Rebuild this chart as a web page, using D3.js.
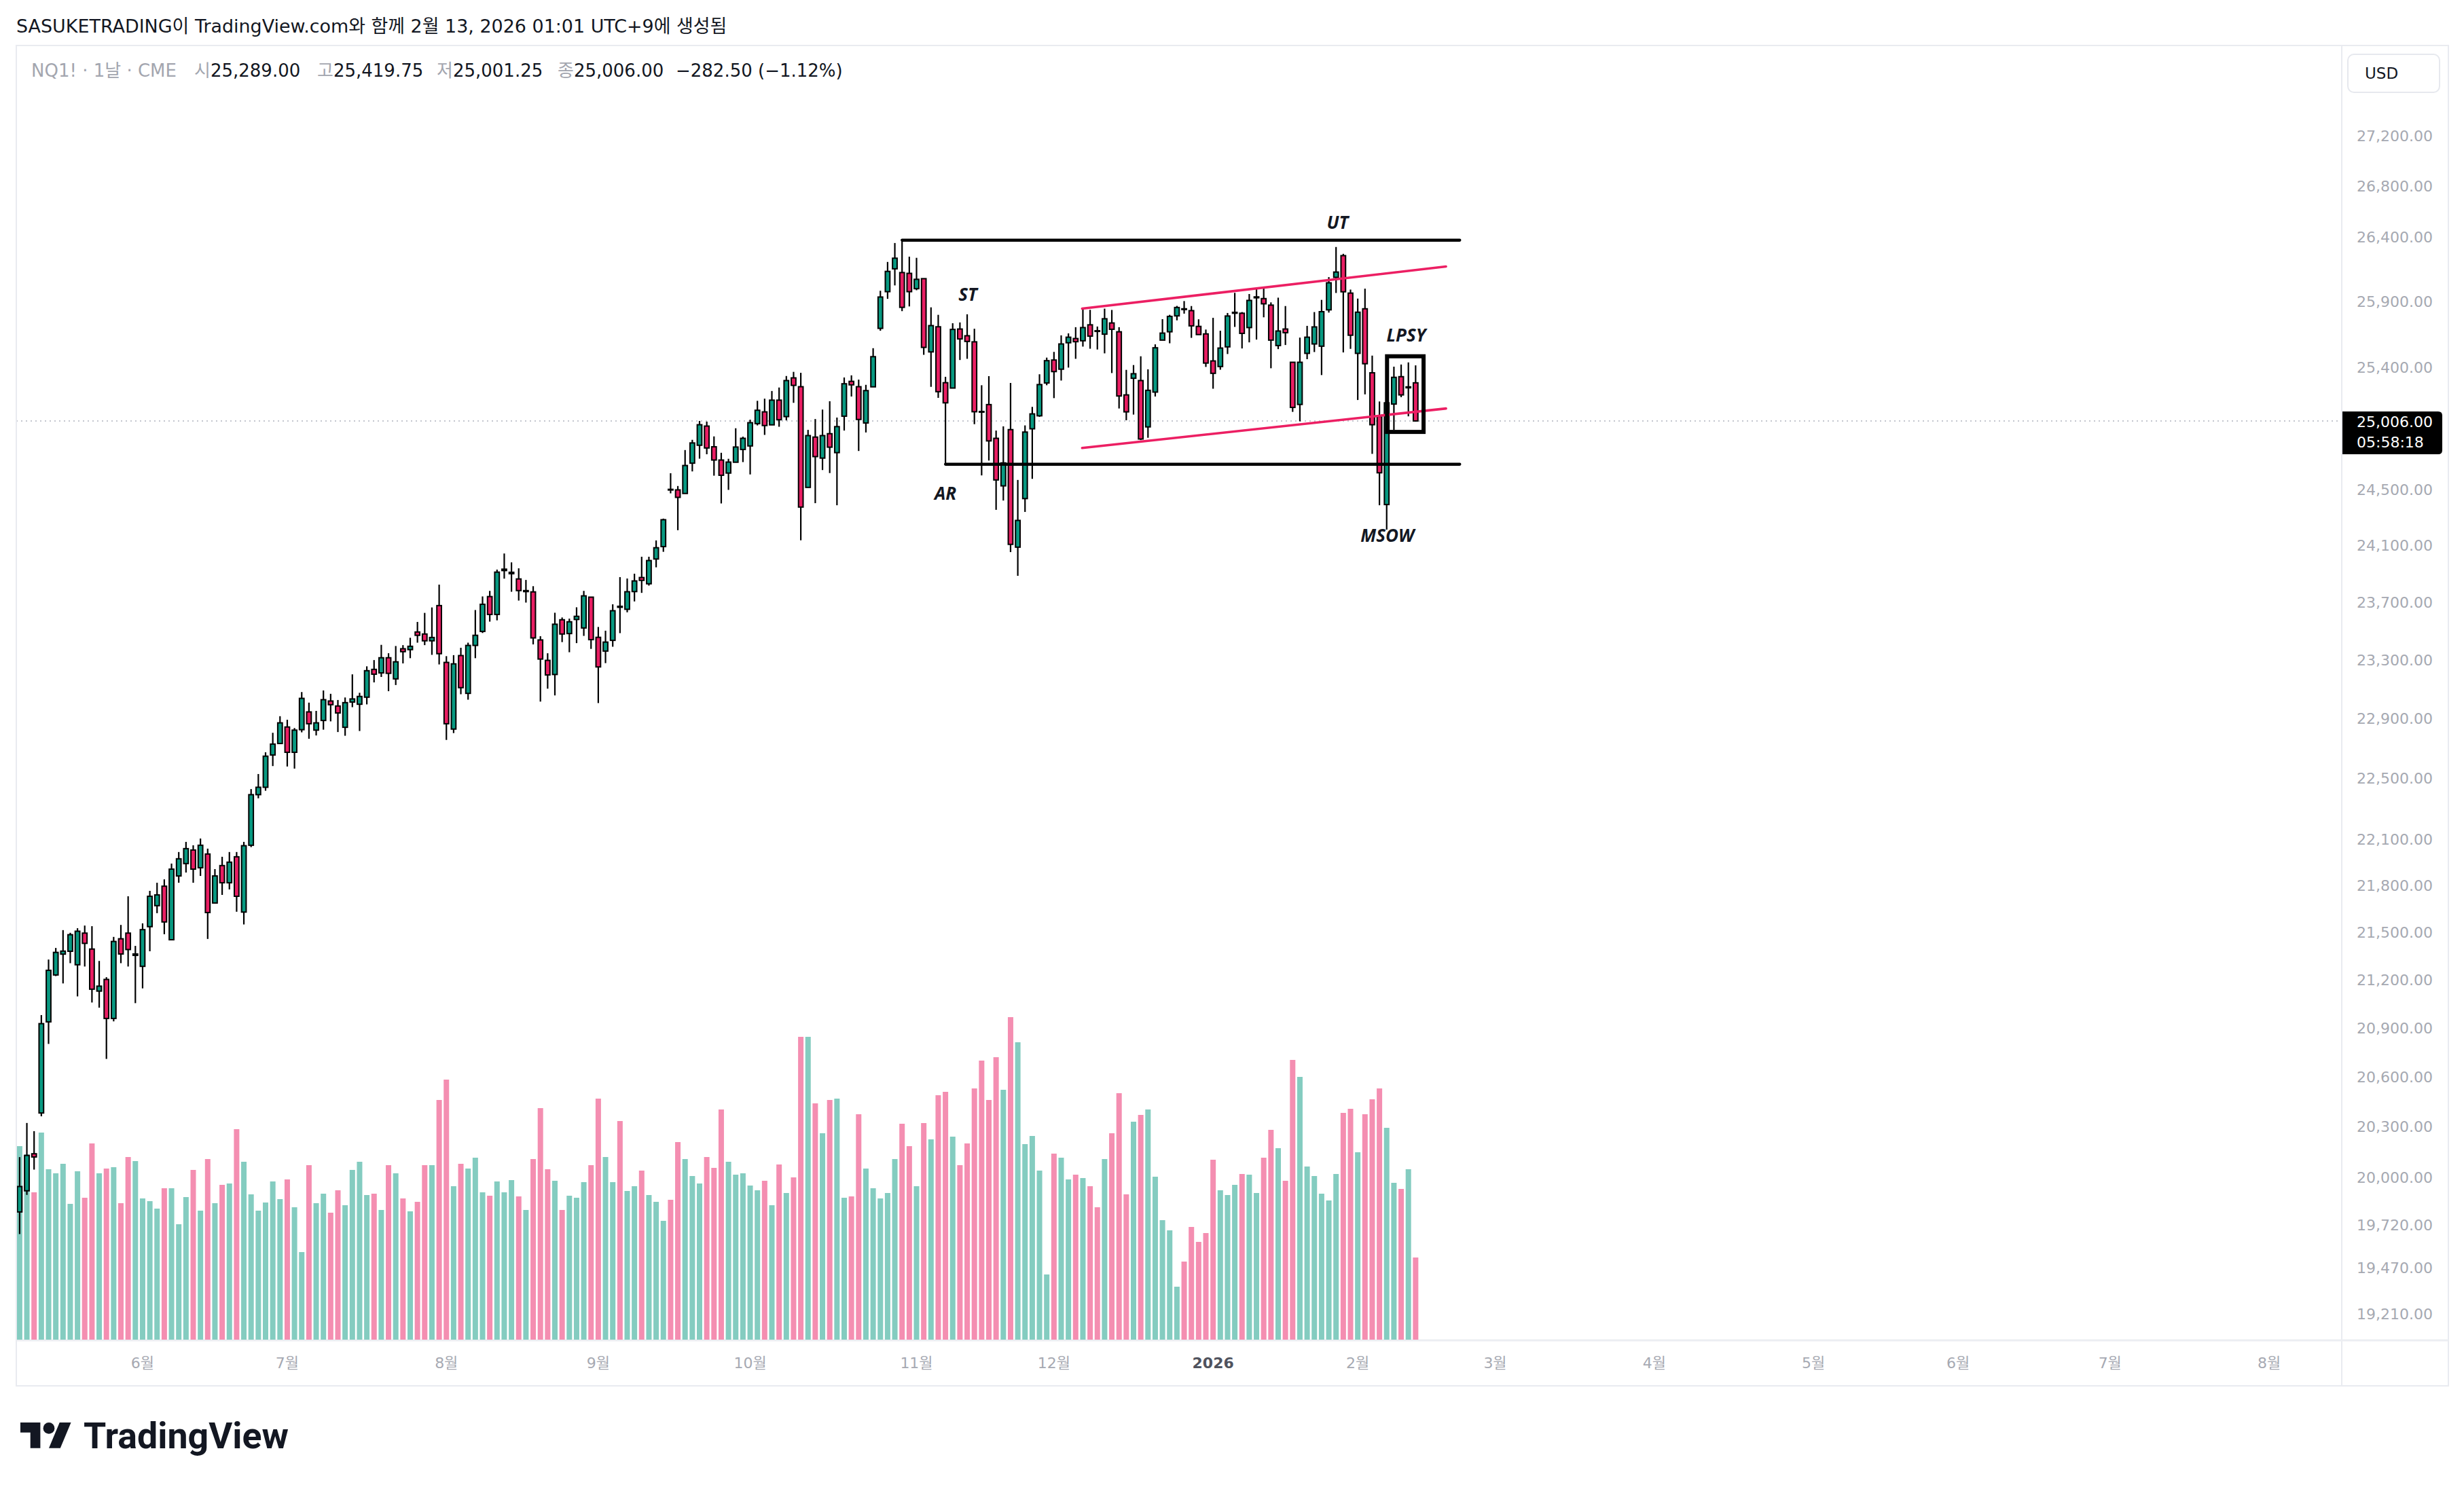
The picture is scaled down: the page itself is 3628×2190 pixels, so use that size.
<!DOCTYPE html>
<html><head><meta charset="utf-8">
<script src="https://cdn.jsdelivr.net/npm/d3@7"></script>
<style>html,body{margin:0;padding:0;background:#fff;}svg{display:block}</style>
</head><body>
<svg id="chart" width="3628" height="2190"></svg>
<script>
// ---------- DATA (NQ1! daily, bar index 0 = 2025-05-07) ----------
const opens = [19797,19921,20140,20384,20940,21232,21363,21381,21296,21496,21395,21131,21204,20961,21460,21496,21355,21286,21537,21671,
21796,21454,21862,21942,22030,21915,22004,21688,21929,21818,21986,21630,22061,22393,22442,22657,22734,22845,22675,22827,
22947,22824,22889,23021,22987,22843,23014,22999,23047,23237,23213,23317,23172,23379,23373,23495,23481,23434,23679,23285,
22831,23332,23073,23402,23499,23742,23617,23925,23903,23866,23777,23775,23440,23299,23202,23580,23484,23582,23523,23738,
23458,23363,23437,23674,23653,23777,23876,23832,24007,24095,24506,24502,24476,24696,24827,24968,24816,24719,24624,24703,
24796,24822,24986,25073,24977,25160,25038,25326,25260,24520,24887,24733,24912,24773,25041,25300,25260,24991,25259,25699,
25979,26155,26126,26120,26002,26079,25521,25711,25290,25250,25694,25643,25597,25076,25127,24878,24531,24942,24091,24439,
24948,25044,25288,25460,25391,25590,25622,25605,25726,25681,25655,25740,25673,25199,25323,25306,24962,25220,25610,25673,
25794,25848,25834,25714,25657,25453,25411,25559,25814,25814,25705,25932,25926,25876,25569,25694,25443,25128,25510,25581,
25564,25840,26089,26257,25968,25510,25848,25364,25040,24396,25131,25335,25252,25289];
const highs = [20120,20324,20275,20982,21329,21402,21515,21498,21527,21544,21540,21320,21218,21472,21548,21731,21415,21558,21766,21818,
21840,21942,22017,22083,22061,22105,22039,21906,21986,22017,22017,22083,22430,22530,22675,22806,22918,22894,22838,23082,
23010,22954,23093,23070,23028,23045,23203,23077,23258,23301,23406,23348,23398,23404,23455,23565,23628,23666,23826,23328,
23335,23386,23421,23648,23743,23782,23932,24046,23983,23941,23859,23815,23466,23348,23629,23596,23588,23667,23782,23738,
23530,23504,23688,23879,23869,23903,24023,24023,24139,24295,24623,24530,24792,24867,25006,25001,24892,24772,24728,24952,
24890,25015,25155,25171,25228,25254,25340,25371,25364,24940,25020,25090,25152,25031,25329,25345,25313,25274,25549,25986,
26208,26355,26377,26249,26240,26079,25859,25802,25334,25738,25744,25806,25696,25271,25339,24935,24966,25288,24574,24973,
25110,25353,25478,25521,25646,25661,25708,25847,25840,25713,25849,25839,25708,25386,25422,25488,25390,25578,25769,25802,
25870,25907,25869,25768,25690,25779,25681,25816,25970,25823,25961,26000,26016,25897,25933,25869,25443,25629,25718,25823,
25916,26091,26324,26271,25995,25926,26002,25493,25150,25166,25410,25426,25442,25419.75];
const lows = [19668,19897,20046,20364,20804,21225,21179,21306,21098,21285,21060,21028,20712,20943,21306,21285,21056,21148,21381,21623,
21489,21454,21818,21884,21818,21862,21459,21688,21740,21775,21632,21551,22049,22369,22419,22583,22734,22580,22566,22809,
22766,22788,22827,22883,22811,22786,22979,22818,22998,23148,23185,23088,23130,23278,23314,23421,23404,23337,23271,22758,
22804,23067,23030,23314,23488,23567,23576,23868,23776,23714,23700,23409,23017,23105,23059,23425,23355,23418,23468,23378,
23007,23280,23393,23487,23632,23708,23768,23819,23948,24058,24477,24212,24476,24636,24729,24761,24605,24404,24502,24703,
24704,24614,24973,24903,24977,24963,25010,25140,24140,24520,24406,24646,24624,24391,24935,25187,24785,24921,25259,25681,
25924,26027,25830,25866,25990,25499,25259,25177,24688,25250,25460,25469,24982,24607,24715,24358,24425,24056,23888,24343,
24582,25036,25271,25175,25306,25403,25469,25561,25545,25539,25510,25362,25098,25011,25053,24865,24882,25187,25610,25586,
25760,25811,25627,25652,25408,25245,25387,25505,25710,25547,25593,25614,25783,25398,25542,25573,25073,25003,25466,25520,
25347,25819,25969,25517,25544,25161,25203,24764,24391,24216,24940,25182,25040,25001.25];
const closes = [19946,20130,20121,20929,21261,21374,21382,21486,21508,21431,21143,21162,20961,21443,21364,21392,21364,21518,21731,21740,
21567,21906,21973,22039,21906,22061,21627,21862,21818,21951,21731,22058,22393,22442,22649,22730,22873,22675,22824,23039,
22867,22873,23030,22996,22940,23010,23035,23052,23228,23204,23317,23210,23289,23359,23396,23472,23434,23457,23345,22867,
23275,23112,23402,23472,23688,23617,23914,23935,23913,23784,23784,23454,23308,23199,23549,23481,23566,23604,23747,23442,
23254,23425,23643,23667,23776,23852,23856,23996,24087,24287,24501,24448,24679,24844,24978,24807,24719,24608,24704,24814,
24878,24993,25085,24972,25160,25015,25306,25270,24378,24898,24744,24898,24813,24964,25282,25274,25017,25231,25485,25938,
26135,26237,25859,25979,26074,25555,25720,25223,25140,25691,25619,25600,25074,25071,24859,24574,24698,24111,24282,24924,
25058,25276,25455,25373,25581,25632,25598,25705,25640,25676,25772,25692,25191,25073,25357,24873,25233,25552,25663,25790,
25858,25842,25718,25652,25437,25360,25550,25793,25821,25661,25912,25939,25886,25610,25679,25666,25106,25443,25632,25710,
25826,26047,26130,25978,25647,25822,25432,24978,24626,25140,25330,25199,25259,25006];
// volume, thousands of contracts
const volumes = [570,546,434,610,502,490,518,400,496,418,578,490,504,508,402,538,526,416,408,386,
446,446,340,420,500,380,532,402,456,460,620,524,428,380,404,466,414,472,390,258,
514,402,430,374,440,396,500,524,426,430,382,514,490,416,378,406,514,514,706,766,
452,518,504,536,434,424,466,434,470,422,382,532,682,502,468,382,424,418,464,514,
710,538,464,644,438,452,498,426,406,350,412,582,532,482,460,538,506,678,524,486,
490,454,440,468,396,516,432,478,892,892,696,608,706,710,418,422,664,504,446,416,
432,532,636,570,452,638,590,720,730,598,514,578,740,822,706,832,736,950,876,576,
600,498,192,548,536,472,486,476,452,390,532,608,726,428,642,662,678,480,352,322,
156,230,332,288,314,530,440,426,456,488,486,432,536,618,564,468,824,774,510,482,
430,410,488,668,680,552,664,708,740,624,462,444,502,242];

const priceTicks = [27200,26800,26400,25900,25400,24500,24100,23700,23300,22900,22500,22100,21800,21500,21200,20900,20600,20300,20000,19720,19470,19210];
const monthLabels = ['6월','7월','8월','9월','10월','11월','12월','2026','2월','3월','4월','5월','6월','7월','8월'];
const monthStartBar = [17,37,59,80,101,124,143,165,185,204,226,248,268,289,311];

const levelLines = [
  {name:'UT', from:122, to:199.1, price:26377},
  {name:'AR', from:128, to:199.1, price:24688}
];
const channelLines = [
  {b1:146.9, p1:25849, b2:197.2, p2:26173},
  {b1:146.9, p1:24807, b2:197.2, p2:25098}
];
const lpsyBox = {b1:189.05, b2:194.1, pTop:25488, pBot:24925};
const labels = [
  {t:'UT', bar:182.2, price:26520},
  {t:'ST', bar:131.1, price:25961},
  {t:'AR', bar:128.0, price:24479},
  {t:'LPSY', bar:191.7, price:25650},
  {t:'MSOW', bar:189.1, price:24179}
];
const titleText = 'SASUKETRADING이 TradingView.com와 함께 2월 13, 2026 01:01 UTC+9에 생성됨';
const symbolText = 'NQ1! · 1날 · CME';
const ohlcLabels = ['시','고','저','종'];
const ohlcValues = ['25,289.00','25,419.75','25,001.25','25,006.00'];
const changeText = '−282.50 (−1.12%)';
const lastPrice = 25006, countdown = '05:58:18';

// ---------- LAYOUT ----------
const W = 3628, H = 2190;
const pane = {left:24, top:67, right:3448, bottom:1974};
const frame = {right:3605, bottom:2041};
const FONT = "'DejaVu Sans','Noto Sans CJK KR',sans-serif";
const UP = '#089981', DOWN = '#e91e63';
const UPV = '#84ccc0', DOWNV = '#f48eb1';

const svg = d3.select('#chart');
svg.append('rect').attr('width', W).attr('height', H).attr('fill', '#fff');

const x = d3.scaleLinear().domain([0, 193]).range([28.9, 28.9 + 193 * 10.65]);
const y = d3.scaleLog().domain([19210, 27200]).range([1935, 200.5]);
const yv = d3.scaleLinear().domain([0, d3.max(volumes)]).range([1973, 1498]);

const bars = opens.map((o, i) => ({i, o, h: highs[i], l: lows[i], c: closes[i], v: volumes[i], up: closes[i] >= o}));

function fit(sel, target) {
  const w = sel.node().getComputedTextLength();
  const fs = parseFloat(sel.attr('font-size'));
  if (w > 0) sel.attr('font-size', fs * target / w);
}

// ---------- HEADER ----------
const t1 = svg.append('text').attr('x', 24).attr('y', 38).attr('dominant-baseline', 'central')
  .attr('font-family', FONT).attr('font-size', 25).attr('fill', '#131722').text(titleText);
fit(t1, 1047);

const l2 = svg.append('g').attr('font-family', FONT).attr('font-size', 26);
const sym = l2.append('text').attr('x', 46).attr('y', 104).attr('dominant-baseline', 'central').attr('fill', '#a3a6af').text(symbolText);
fit(sym, 224);
const lblX = [286, 467, 643, 821];
ohlcLabels.forEach((lb, k) => {
  const t = l2.append('text').attr('x', lblX[k]).attr('y', 104).attr('dominant-baseline', 'central');
  t.append('tspan').attr('fill', '#a3a6af').text(lb);
  t.append('tspan').attr('fill', '#131722').text(ohlcValues[k]);
});
l2.append('text').attr('x', 995).attr('y', 104).attr('dominant-baseline', 'central').attr('fill', '#131722').text(changeText);

// ---------- FRAME ----------
svg.append('rect').attr('x', pane.left).attr('y', pane.top).attr('width', frame.right - pane.left)
  .attr('height', frame.bottom - pane.top).attr('fill', 'none').attr('stroke', '#e9ebf0').attr('stroke-width', 2);
svg.append('line').attr('x1', pane.right).attr('x2', pane.right).attr('y1', pane.top).attr('y2', frame.bottom)
  .attr('stroke', '#e9ebf0').attr('stroke-width', 2);
svg.append('line').attr('x1', pane.left).attr('x2', frame.right).attr('y1', pane.bottom).attr('y2', pane.bottom)
  .attr('stroke', '#eceef2').attr('stroke-width', 3);

svg.append('clipPath').attr('id', 'clip').append('rect')
  .attr('x', pane.left + 1).attr('y', pane.top + 1).attr('width', pane.right - pane.left - 2).attr('height', pane.bottom - pane.top - 2);
const plot = svg.append('g').attr('clip-path', 'url(#clip)');

// last price dotted line
const yl = y(lastPrice);
plot.append('line').attr('x1', pane.left).attr('x2', pane.right).attr('y1', yl).attr('y2', yl)
  .attr('stroke', '#c3c6ce').attr('stroke-width', 2).attr('stroke-dasharray', '2,5');

// volume
plot.append('g').selectAll('rect').data(bars).join('rect')
  .attr('x', d => x(d.i) - 4).attr('width', 8)
  .attr('y', d => yv(d.v)).attr('height', d => yv(0) - yv(d.v))
  .attr('fill', d => d.up ? UPV : DOWNV);

// candles
const cg = plot.append('g');
cg.selectAll('line').data(bars).join('line')
  .attr('x1', d => x(d.i)).attr('x2', d => x(d.i))
  .attr('y1', d => y(d.h)).attr('y2', d => y(d.l))
  .attr('stroke', '#000').attr('stroke-width', 2.2);
cg.selectAll('rect').data(bars).join('rect')
  .attr('x', d => x(d.i) - 3.4).attr('width', 6.8)
  .attr('y', d => y(Math.max(d.o, d.c)))
  .attr('height', d => Math.max(1, y(Math.min(d.o, d.c)) - y(Math.max(d.o, d.c))))
  .attr('fill', d => d.up ? UP : DOWN).attr('stroke', '#000').attr('stroke-width', 2);

// annotations
const ag = plot.append('g');
ag.selectAll('.lvl').data(levelLines).join('line').attr('class', 'lvl')
  .attr('x1', d => x(d.from)).attr('x2', d => x(d.to))
  .attr('y1', d => y(d.price)).attr('y2', d => y(d.price))
  .attr('stroke', '#000').attr('stroke-width', 4.3).attr('stroke-linecap', 'round');
ag.selectAll('.ch').data(channelLines).join('line').attr('class', 'ch')
  .attr('x1', d => x(d.b1)).attr('x2', d => x(d.b2))
  .attr('y1', d => y(d.p1)).attr('y2', d => y(d.p2))
  .attr('stroke', '#ec1f63').attr('stroke-width', 3.6).attr('stroke-linecap', 'round');
ag.append('rect')
  .attr('x', x(lpsyBox.b1)).attr('width', x(lpsyBox.b2) - x(lpsyBox.b1))
  .attr('y', y(lpsyBox.pTop)).attr('height', y(lpsyBox.pBot) - y(lpsyBox.pTop))
  .attr('fill', 'none').attr('stroke', '#000').attr('stroke-width', 6);
ag.selectAll('.lbl').data(labels).join('text').attr('class', 'lbl')
  .attr('x', d => x(d.bar)).attr('y', d => y(d.price))
  .attr('text-anchor', 'middle').attr('dominant-baseline', 'central')
  .attr('font-family', "'Open Sans','Noto Sans',sans-serif").attr('font-style', 'italic').attr('font-weight', 700)
  .attr('font-size', 26).attr('fill', '#131722').text(d => d.t);

// ---------- PRICE AXIS ----------
const pa = svg.append('g').attr('font-family', FONT).attr('font-size', 22);
pa.selectAll('text').data(priceTicks).join('text')
  .attr('x', 3470).attr('y', d => y(d)).attr('dominant-baseline', 'central')
  .attr('fill', '#a6a9b2').text(d => d3.format(',.2f')(d));
svg.append('rect').attr('x', 3457).attr('y', 80).attr('width', 135).attr('height', 56).attr('rx', 9)
  .attr('fill', '#fff').attr('stroke', '#e6e8ee').attr('stroke-width', 2);
svg.append('text').attr('x', 3482).attr('y', 108).attr('dominant-baseline', 'central')
  .attr('font-family', FONT).attr('font-size', 23).attr('fill', '#131722').text('USD');
const bx0 = 3449, bx1 = 3596, by0 = yl - 14, by1 = yl + 49, r = 6;
svg.append('path').attr('d', `M${bx0},${by0} H${bx1 - r} Q${bx1},${by0} ${bx1},${by0 + r} V${by1 - r} Q${bx1},${by1} ${bx1 - r},${by1} H${bx0} Z`)
  .attr('fill', '#000');
svg.append('text').attr('x', 3470).attr('y', yl + 2).attr('dominant-baseline', 'central')
  .attr('font-family', FONT).attr('font-size', 22).attr('fill', '#fff').text(d3.format(',.2f')(lastPrice));
svg.append('text').attr('x', 3470).attr('y', yl + 32).attr('dominant-baseline', 'central')
  .attr('font-family', FONT).attr('font-size', 22).attr('fill', '#fff').text(countdown);

// ---------- TIME AXIS ----------
svg.append('g').selectAll('text').data(monthLabels).join('text')
  .attr('x', (d, k) => x(monthStartBar[k])).attr('y', 2007)
  .attr('text-anchor', 'middle').attr('dominant-baseline', 'central')
  .attr('font-family', FONT).attr('font-size', 22)
  .attr('font-weight', d => /^\d{4}$/.test(d) ? 700 : 400)
  .attr('fill', d => /^\d{4}$/.test(d) ? '#50535e' : '#a6a9b2')
  .text(d => d);

// ---------- LOGO ----------
const logo = svg.append('g').attr('transform', 'translate(30,2086.6) scale(2.1)').attr('fill', '#131722');
logo.append('path').attr('d', 'M14 22H7V11H0V4h14v18z');
logo.append('circle').attr('cx', 20).attr('cy', 8).attr('r', 4);
logo.append('path').attr('d', 'M28 22h-8l7.5-18h8L28 22z');
const lt = svg.append('text').attr('x', 123).attr('y', 2133)
  .attr('font-family', "Roboto,'Liberation Sans',sans-serif").attr('font-weight', 700)
  .attr('font-size', 54).attr('fill', '#131722').text('TradingView');
fit(lt, 302);
</script>
</body></html>
